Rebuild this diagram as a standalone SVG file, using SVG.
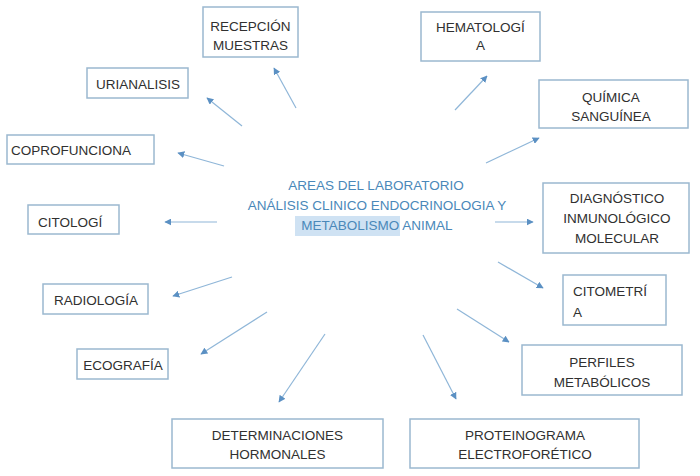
<svg xmlns="http://www.w3.org/2000/svg" width="700" height="476" viewBox="0 0 700 476">
<style>
.box{fill:#ffffff;stroke:#9bb8cf;stroke-width:1.5}
.t{font-family:"Liberation Sans",Arial,sans-serif;font-size:13.5px;fill:#303030;text-anchor:middle}
.l{text-anchor:start}
.c{font-family:"Liberation Sans",Arial,sans-serif;font-size:13.5px;fill:#4a88b9;text-anchor:middle}
.ar{stroke:#8fb6d8;stroke-width:1.2;fill:none;marker-end:url(#ah)}
</style>
<defs>
<marker id="ah" viewBox="0 0 10 10" refX="9" refY="5" markerWidth="7" markerHeight="7" markerUnits="userSpaceOnUse" orient="auto">
<path d="M0,0 L10,5 L0,10 z" fill="#5b90c3"/>
</marker>
</defs>
<rect width="700" height="476" fill="#ffffff"/>
<g id="center">
<rect x="295" y="216" width="105" height="20" fill="#cfe2f3"/>
<text class="c" x="376" y="190">AREAS DEL LABORATORIO</text>
<text class="c" x="377" y="210">ANÁLISIS CLINICO ENDOCRINOLOGIA Y</text>
<text class="c" x="377" y="230">METABOLISMO ANIMAL</text>
</g>
<g id="connectors">
<line class="ar" x1="296" y1="108" x2="274" y2="68"/>
<line class="ar" x1="242" y1="126" x2="207" y2="98"/>
<line class="ar" x1="224" y1="166" x2="178" y2="153"/>
<line class="ar" x1="217" y1="222" x2="165" y2="222"/>
<line class="ar" x1="232" y1="277" x2="173" y2="296"/>
<line class="ar" x1="267" y1="312" x2="201" y2="354"/>
<line class="ar" x1="325" y1="334" x2="279" y2="402"/>
<line class="ar" x1="423" y1="335" x2="456" y2="399"/>
<line class="ar" x1="457" y1="309" x2="509" y2="342"/>
<line class="ar" x1="498" y1="262" x2="543" y2="288"/>
<line class="ar" x1="495" y1="222" x2="533" y2="222"/>
<line class="ar" x1="486" y1="163" x2="539" y2="138"/>
<line class="ar" x1="455" y1="110" x2="487" y2="76"/>
</g>
<g id="recepcion">
<rect class="box" x="203" y="7" width="95" height="50"/>
<text class="t" x="250.5" y="31">RECEPCIÓN</text>
<text class="t" x="250.5" y="50">MUESTRAS</text>
</g>
<g id="urianalisis">
<rect class="box" x="87" y="68" width="101" height="30"/>
<text class="t" x="138" y="88.5">URIANALISIS</text>
</g>
<g id="coprofunciona">
<rect class="box" x="7" y="135" width="147" height="29"/>
<text class="t l" x="11" y="154.5">COPROFUNCIONA</text>
</g>
<g id="citologia">
<rect class="box" x="28" y="205" width="91" height="29"/>
<text class="t l" x="38" y="226.5">CITOLOGÍ</text>
</g>
<g id="radiologia">
<rect class="box" x="43" y="284" width="105" height="30"/>
<text class="t" x="96" y="304.5">RADIOLOGÍA</text>
</g>
<g id="ecografia">
<rect class="box" x="77" y="349" width="91" height="30"/>
<text class="t" x="123" y="370">ECOGRAFÍA</text>
</g>
<g id="determinaciones">
<rect class="box" x="172" y="419" width="211" height="49"/>
<text class="t" x="277.5" y="439.5">DETERMINACIONES</text>
<text class="t" x="277.5" y="458.5">HORMONALES</text>
</g>
<g id="proteinograma">
<rect class="box" x="410" y="419" width="229" height="49"/>
<text class="t" x="525" y="439.5">PROTEINOGRAMA</text>
<text class="t" x="525" y="458.5">ELECTROFORÉTICO</text>
</g>
<g id="perfiles">
<rect class="box" x="522" y="345" width="160" height="50"/>
<text class="t" x="602" y="366.5">PERFILES</text>
<text class="t" x="602" y="386.5">METABÓLICOS</text>
</g>
<g id="citometria">
<rect class="box" x="563" y="275" width="103" height="50"/>
<text class="t l" x="573" y="295.5">CITOMETRÍ</text>
<text class="t l" x="573" y="316.5">A</text>
</g>
<g id="diagnostico">
<rect class="box" x="543" y="183" width="146" height="70"/>
<text class="t" x="617" y="202.5">DIAGNÓSTICO</text>
<text class="t" x="617" y="222.5">INMUNOLÓGICO</text>
<text class="t" x="617" y="242.5">MOLECULAR</text>
</g>
<g id="quimica">
<rect class="box" x="539" y="80" width="149" height="48"/>
<text class="t" x="611" y="101.5">QUÍMICA</text>
<text class="t" x="611" y="120.5">SANGUÍNEA</text>
</g>
<g id="hematologia">
<rect class="box" x="421" y="12" width="119" height="49"/>
<text class="t" x="480.5" y="31.5">HEMATOLOGÍ</text>
<text class="t" x="480.5" y="49.5">A</text>
</g>
</svg>
